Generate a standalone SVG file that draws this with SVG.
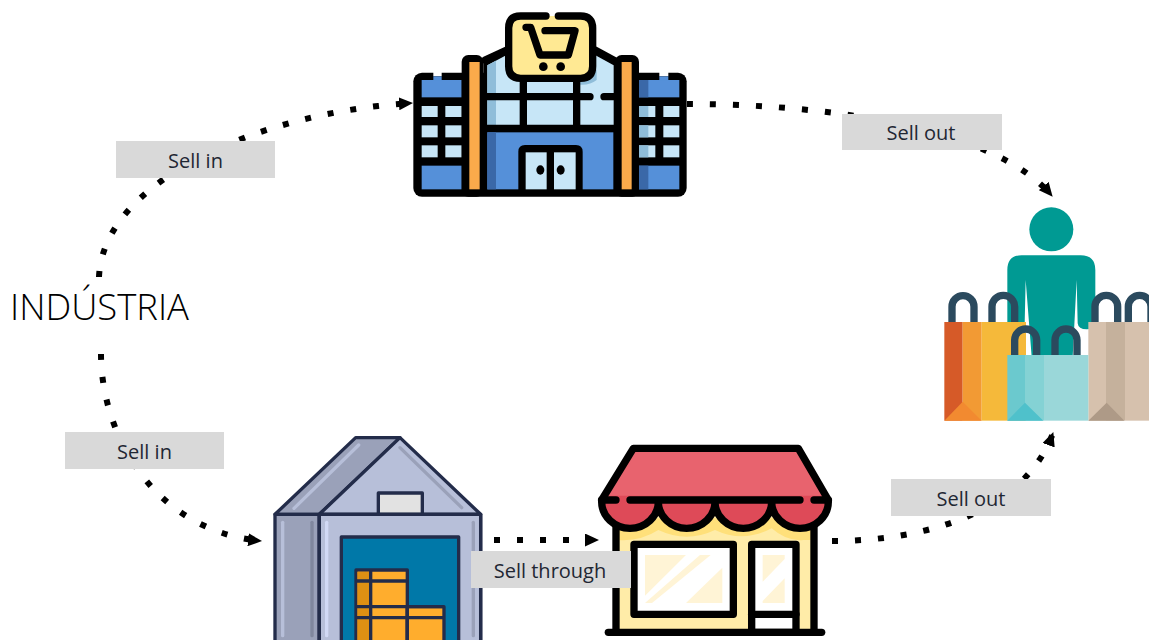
<svg xmlns="http://www.w3.org/2000/svg" width="1149" height="640" viewBox="0 0 1149 640">
<style>
.k{stroke:#000;stroke-width:22;fill:none;stroke-linecap:round;stroke-linejoin:round}
.c{fill:none;stroke:#000;stroke-width:6;stroke-dasharray:6 17}
.h{fill:none;stroke:#2b4a5e;stroke-width:22}
.w{stroke:#232c4a;stroke-width:10;stroke-linejoin:round}
.l{fill:#d9d9d9}
.t{font-family:"Open Sans","Liberation Sans",sans-serif;font-size:20px;fill:#1f2733;text-anchor:middle}
.hl{fill:none;stroke-width:10;stroke-linecap:round}
</style>
<defs>
<marker id="a" markerWidth="14" markerHeight="13" refX="13" refY="6.500" orient="auto" markerUnits="userSpaceOnUse"><path d="M0 0L14 6.500L0 13z" fill="#000"/></marker>
</defs>
<g id="mall" transform="translate(400 0) scale(.33333)">
<rect x="40" y="218" width="820" height="372" rx="26" fill="#000"/>
<path d="M100 216H125V229H100zM778 216H805V229H778z" fill="#fff"/>
<g fill="#5590d9"><rect x="65" y="240" width="120" height="52"/><rect x="100" y="229" width="25" height="12"/><rect x="65" y="497" width="120" height="71"/><rect x="717" y="240" width="121" height="52"/><rect x="778" y="229" width="27" height="12"/><rect x="717" y="497" width="121" height="71"/></g>
<g fill="#3a68a8"><rect x="717" y="240" width="28" height="52"/><rect x="717" y="497" width="28" height="71"/></g>
<g fill="#c7e6f7"><rect x="65" y="318" width="48" height="33"/><rect x="136" y="318" width="49" height="33"/><rect x="65" y="376" width="48" height="36"/><rect x="136" y="376" width="49" height="36"/><rect x="65" y="436" width="48" height="36"/><rect x="136" y="436" width="49" height="36"/><rect x="717" y="318" width="49" height="33"/><rect x="790" y="318" width="48" height="33"/><rect x="717" y="376" width="49" height="36"/><rect x="790" y="376" width="48" height="36"/><rect x="717" y="436" width="49" height="36"/><rect x="790" y="436" width="48" height="36"/></g>
<g fill="#8fbdd9"><rect x="717" y="318" width="28" height="33"/><rect x="717" y="376" width="28" height="36"/><rect x="717" y="436" width="28" height="36"/></g>
<path d="M250 190L320 150H585L654 190V580H250z" fill="#000"/>
<path d="M262 196L320 165H585L641 196V375H262z" fill="#c7e6f7"/>
<path d="M262 196L288 182V375H262z" fill="#8fbdd9"/>
<path d="M540 235H578V215L590 210V240Q570 256 540 254z" fill="#8fbdd9"/>
<rect x="262" y="397" width="378" height="171" fill="#5590d9"/>
<rect x="262" y="397" width="26" height="171" fill="#3a68a8"/>
<path d="M250 290H570M612 290H654M250 385H654M370 240V385M530 240V385" class="k"/>
<path d="M255 180L320 150M585 150L650 185" class="k"/>
<path d="M355 580V455Q355 435 375 435H528Q548 435 548 455V580z" fill="#000"/>
<rect x="377" y="457" width="63" height="111" fill="#c7e6f7"/><rect x="462" y="457" width="65" height="111" fill="#c7e6f7"/>
<ellipse cx="421" cy="510" rx="12" ry="14"/><ellipse cx="482" cy="510" rx="12" ry="14"/>
<rect x="185" y="165" width="65" height="425" rx="20" fill="#000"/><rect x="208" y="186" width="31" height="382" fill="#faaa4b"/>
<rect x="645" y="165" width="72" height="425" rx="20" fill="#000"/><rect x="665" y="186" width="30" height="382" fill="#faaa4b"/>
<rect x="326" y="48" width="252" height="187" rx="36" fill="#ffe993"/>
<path d="M438 48H362Q326 48 326 84V199Q326 235 362 235H542Q578 235 578 199V84Q578 48 542 48H475" class="k"/>
<path d="M378 82H392L420 165H505L525 92H435" class="k"/>
<circle cx="430" cy="200" r="13"/><circle cx="482" cy="200" r="13"/>
</g>
<g id="shopper" transform="translate(930 190) scale(.33333)">
<circle cx="364" cy="118" r="66" fill="#009a93"/>
<path d="M232 400V240Q232 196 275 196H452Q496 196 496 240V395Q496 418 470 418Q445 418 443 400L440 270L428 500H305L287 270L284 400z" fill="#009a93"/>
<path d="M66 396V350A33 33 0 0 1 132 350V396M186 396V350A34 34 0 0 1 254 350V396M495 396V350A34 34 0 0 1 563 350V396M595 396V350A34 34 0 0 1 663 350V396" class="h"/>
<rect x="43" y="396" width="55" height="296" fill="#d65a28"/>
<rect x="98" y="396" width="57" height="296" fill="#f29a34"/>
<rect x="155" y="396" width="133" height="296" fill="#f5b93a"/>
<path d="M43 692L98 635L155 692z" fill="#f28a30"/>
<rect x="475" y="396" width="53" height="296" fill="#d6c1ad"/><rect x="528" y="396" width="57" height="296" fill="#c5b19c"/><rect x="585" y="396" width="72" height="296" fill="#d6c1ad"/>
<path d="M475 692L530 638L583 692z" fill="#ae9a87"/>
<path d="M254 495V450A33 33 0 0 1 320 450V495M375 495V450A33 33 0 0 1 441 450V495" class="h"/>
<rect x="232" y="495" width="53" height="197" fill="#6bc9ce"/><rect x="285" y="495" width="57" height="197" fill="#84d2d4"/><rect x="342" y="495" width="133" height="197" fill="#9ad7d9"/>
<path d="M232 692L285 638L340 692z" fill="#4fc1cb"/>
</g>
<g id="warehouse" transform="translate(260 425) scale(.33333)">
<path d="M45 268L287 38H420L178 268z" fill="#9aa1b9" class="w"/>
<path d="M178 268L420 38L662 268z" fill="#b7bfd9" class="w"/>
<rect x="355" y="204" width="132" height="64" fill="#e2e2e2" class="w"/>
<rect x="45" y="268" width="133" height="390" fill="#9aa1b9" class="w"/>
<rect x="178" y="268" width="484" height="390" fill="#b7bfd9" class="w"/>
<path d="M178 268H662M662 268V650M178 268V650" class="w" fill="none"/>
<path d="M68 292V632" stroke="#b7bfd9" class="hl"/><path d="M156 292V632" stroke="#80879e" class="hl"/><path d="M200 292V632" stroke="#d1d9f5" class="hl"/><path d="M640 292V632" stroke="#9aa1b9" class="hl"/>
<path d="M102 250L296 60" stroke="#b7bfd9" class="hl"/><path d="M420 68L605 248" stroke="#9aa1b9" class="hl"/>
<rect x="244" y="336" width="352" height="320" fill="#0078a8" class="w"/>
<rect x="288" y="435" width="154" height="220" fill="#ffad2d" class="w"/>
<rect x="442" y="545" width="110" height="110" fill="#ffad2d" class="w"/>
<rect x="292" y="440" width="36" height="215" fill="#de9013"/>
<path d="M288 468H442M288 545H552M288 578H552M332 435V650M442 545V650" class="w" fill="none"/>
</g>
<g id="store" transform="translate(590 435) scale(.33333)">
<rect x="78" y="240" width="594" height="352" fill="#ffeca8"/>
<path d="M85 250H665V315H640Q590 320 545 280Q460 325 375 285Q290 325 205 285Q150 320 85 315z" fill="#ffe07a"/>
<path d="M78 250V592M672 250V592" class="k"/>
<rect x="132" y="328" width="298" height="210" class="k" style="fill:#fff"/>
<path d="M165 360H288L165 482zM330 360H362L186 504H165zM397 398V504H288z" fill="#fff4d6"/>
<path d="M485 592V328H618V592z" class="k" style="fill:#fff;stroke-linecap:butt"/>
<path d="M485 538H618" class="k"/>
<path d="M518 360H584V372L518 440zM584 430V504H518V498z" fill="#fff4d6"/>
<path d="M130 40H625L715 195H35z" fill="#e8636e"/>
<path d="M35 200L46 182H704L715 200A85 80 0 0 1 545 200A85 80 0 0 1 375 200A85 80 0 0 1 205 200A85 80 0 0 1 35 200z" fill="#de4a58"/>
<path d="M35 195L130 40H625L715 195" class="k"/>
<path d="M35 200A85 80 0 0 0 205 200A85 80 0 0 0 375 200A85 80 0 0 0 545 200A85 80 0 0 0 715 200" class="k"/>
<path d="M35 195H78M120 195H630M672 195H715" class="k"/>
<path d="M55 592H695" class="k"/>
</g>
<g id="connectors">
<path class="c" d="M99 277C103 181 260 112 412 103" marker-end="url(#a)"/>
<path class="c" d="M687 104C830 104 995 128 1052 196" marker-end="url(#a)"/>
<path class="c" d="M101 354C101 430 150 530 261 541" marker-end="url(#a)"/>
<path class="c" d="M494 540H598" marker-end="url(#a)"/>
<path class="c" d="M832 541C930 541 1025 510 1053 433" marker-end="url(#a)"/>
</g>
<g id="label-sell-in-top"><rect class="l" x="116" y="141" width="159" height="37"/><text class="t" x="195.500" y="168">Sell in</text></g>
<g id="label-sell-out-top"><rect class="l" x="842" y="114" width="160" height="36"/><text class="t" x="921" y="140">Sell out</text></g>
<g id="label-sell-in-bottom"><rect class="l" x="65" y="432" width="159" height="37"/><text class="t" x="144.500" y="459">Sell in</text></g>
<g id="label-sell-out-bottom"><rect class="l" x="891" y="479" width="160" height="37"/><text class="t" x="971" y="506">Sell out</text></g>
<g id="label-sell-through"><rect class="l" x="471" y="551" width="160" height="37"/><text class="t" x="550" y="578">Sell through</text></g>
<g id="industria"><text x="10" y="320" style="font-family:'Open Sans','Liberation Sans',sans-serif;font-size:36px;font-weight:300;fill:#000" textLength="179" lengthAdjust="spacingAndGlyphs">INDÚSTRIA</text></g>
</svg>
